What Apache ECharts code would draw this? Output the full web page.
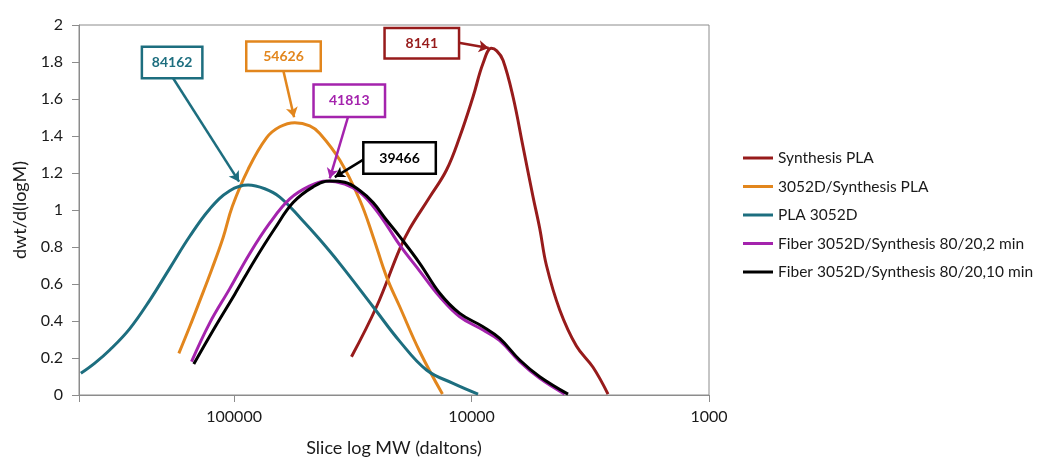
<!DOCTYPE html>
<html><head><meta charset="utf-8">
<script src="https://cdn.jsdelivr.net/npm/echarts@6/dist/echarts.min.js"></script>
<style>html,body{margin:0;padding:0;background:#fff}#c{width:1037px;height:459px}</style>
</head><body><div id="c"></div>
<script>
// ---------- data ----------
const seriesNames = ['Synthesis PLA', '3052D/Synthesis PLA', 'PLA 3052D',
  'Fiber 3052D/Synthesis 80/20,2 min', 'Fiber 3052D/Synthesis 80/20,10 min'];

// [molecular weight (daltons), dwt/d(logM)]
const synthesisPLA = [[32040,0.207],[25140,0.477],[20060,0.79],[18200,0.90],[15000,1.07],
  [12750,1.216],[11210,1.396],[9856,1.612],[8944,1.793],[8248,1.874],[7832,1.86],[7370,1.81],[6689,1.612],
  [6070,1.342],[5510,1.072],[5162,0.90],[4836,0.70],[4252,0.46],[3617,0.265],[3079,0.15],[2663,0.005]];
const blendPLA = [[170900,0.225],[153700,0.37],[139400,0.51],[124100,0.68],[111300,0.85],[101700,1.02],
  [87300,1.22],[73050,1.39],[64200,1.45],[55520,1.472],[48010,1.455],[43570,1.414],[35890,1.27],
  [29560,1.054],[25980,0.856],[22820,0.64],[20060,0.477],[16530,0.235],[13260,0.005]];
const pla3052D = [[442000,0.117],[386000,0.172],[334000,0.243],[274900,0.359],[226400,0.513],[186500,0.686],
  [153700,0.858],[126600,1.006],[104300,1.104],[87300,1.135],[74270,1.115],[64200,1.07],[52030,0.95],
  [43570,0.84],[35890,0.71],[25980,0.477],[20060,0.29],[15480,0.135],[11960,0.063],[9390,0.005]];
const fiber2min = [[151100,0.18],[126600,0.39],[104300,0.575],[85900,0.765],[70730,0.93],[58270,1.06],
  [48010,1.13],[40830,1.157],[34200,1.14],[29560,1.095],[25980,1.02],[22820,0.92],[20060,0.81],
  [16530,0.67],[13610,0.531],[11210,0.423],[8944,0.351],[7608,0.294],[6268,0.18],[5162,0.09],[4052,0.005]];
const fiber10min = [[147800,0.168],[120600,0.365],[99330,0.545],[81800,0.73],[67400,0.9],[56440,1.04],
  [46490,1.125],[39550,1.157],[34200,1.15],[29560,1.105],[25980,1.04],[22820,0.946],[20060,0.856],
  [16530,0.712],[13610,0.55],[11210,0.441],[8944,0.369],[7608,0.306],[6268,0.189],[5162,0.099],[3924,0.005]];

const xTickLabels = ['1000', '10000', '100000'];
const yTickLabels = ['0','0.2','0.4','0.6','0.8','1','1.2','1.4','1.6','1.8','2'];

// peak annotations (Mp values), in data coordinates
const annotationText = ['8141', '54626', '84162', '41813', '39466'];
const annotationBox  = [[16200,1.901],[61940,1.831],[182400,1.797],[32730,1.590],[20100,1.281]];
const annotationTail = [[11320,1.904],[61900,1.748],[180600,1.712],[33110,1.504],[28440,1.274]];
const annotationTip  = [[8465,1.876],[55890,1.501],[95270,1.153],[39550,1.171],[37670,1.178]];

// ---------- styles ----------
const colors = ['#971b1b', '#e2861d', '#1d6e7f', '#a423ad', '#000000'];
const boxSizes = [[72,28],[72,27],[58,29],[69,30],[70,29]];
const FONT = 'Lato, "Open Sans", sans-serif';
const allData = [synthesisPLA, blendPLA, pla3052D, fiber2min, fiber10min];

const chart = echarts.init(document.getElementById('c'), null, {renderer: 'canvas'});

const series = allData.map((d, i) => ({
  name: seriesNames[i],
  type: 'line',
  data: d,
  smooth: 0.4,
  symbol: 'none',
  lineStyle: {color: colors[i], width: 3},
  itemStyle: {color: colors[i]},
  z: 2 + (i === 4 ? 1 : 0),
  emphasis: {disabled: true},
  markLine: {
    silent: true,
    symbol: ['none', 'arrow'],
    symbolSize: [9, 10],
    label: {show: false},
    lineStyle: {color: colors[i], width: 2.5, type: 'solid'},
    emphasis: {disabled: true},
    data: [[{coord: annotationTail[i]}, {coord: annotationTip[i]}]],
    animation: false
  },
  markPoint: {
    silent: true,
    symbol: 'rect',
    symbolSize: 1,
    itemStyle: {color: 'rgba(0,0,0,0)'},
    label: {show: true, position: 'inside', color: colors[i], fontWeight: 'bold',
            fontSize: 14, fontFamily: FONT, formatter: annotationText[i],
            width: boxSizes[i][0], height: boxSizes[i][1], lineHeight: boxSizes[i][1],
            align: 'center', verticalAlign: 'middle', padding: 0,
            backgroundColor: '#fff', borderColor: colors[i], borderWidth: 2.5},
    emphasis: {disabled: true},
    data: [{coord: annotationBox[i]}],
    animation: false
  }
}));

chart.setOption({
  animation: false,
  backgroundColor: '#fff',
  grid: {left: 79, right: 328, top: 25, bottom: 64, show: true, borderColor: '#8c8c8c', borderWidth: 1,
         containLabel: false, outerBoundsMode: 'none'},
  legend: {
    orient: 'vertical', left: 743, top: 150, padding: 0,
    itemWidth: 30, itemHeight: 3, itemGap: 12.5,
    textStyle: {fontFamily: FONT, fontSize: 15.5, lineHeight: 16, color: '#1a1a1a'},
    data: seriesNames.map((n, i) => ({name: n, icon: 'rect', itemStyle: {color: colors[i]}})),
    selectedMode: false
  },
  xAxis: {
    type: 'log', logBase: 10, min: 1000, max: 450000, inverse: true,
    name: 'Slice log MW (daltons)', nameLocation: 'middle', nameGap: 44,
    nameTextStyle: {fontFamily: FONT, fontSize: 18, color: '#1a1a1a'},
    axisLine: {lineStyle: {color: '#8c8c8c', width: 1}},
    axisTick: {show: true, length: 7, lineStyle: {color: '#8c8c8c'}},
    axisLabel: {margin: 14, fontFamily: FONT, fontSize: 16, color: '#1a1a1a',
      formatter: v => { const s = String(Math.round(v)); return xTickLabels.indexOf(s) >= 0 ? s : ''; }},
    splitLine: {show: false}
  },
  yAxis: {
    type: 'value', min: 0, max: 2, interval: 0.2,
    name: 'dwt/d(logM)', nameLocation: 'middle', nameGap: 50,
    nameTextStyle: {fontFamily: FONT, fontSize: 18, color: '#1a1a1a'},
    axisLine: {show: true, lineStyle: {color: '#8c8c8c', width: 1}},
    axisTick: {show: true, length: 7, lineStyle: {color: '#8c8c8c'}},
    axisLabel: {margin: 16, fontFamily: FONT, fontSize: 16, color: '#1a1a1a',
      formatter: v => yTickLabels[Math.round(v / 0.2)]},
    splitLine: {show: false}
  },
  series: series
});
</script></body></html>
